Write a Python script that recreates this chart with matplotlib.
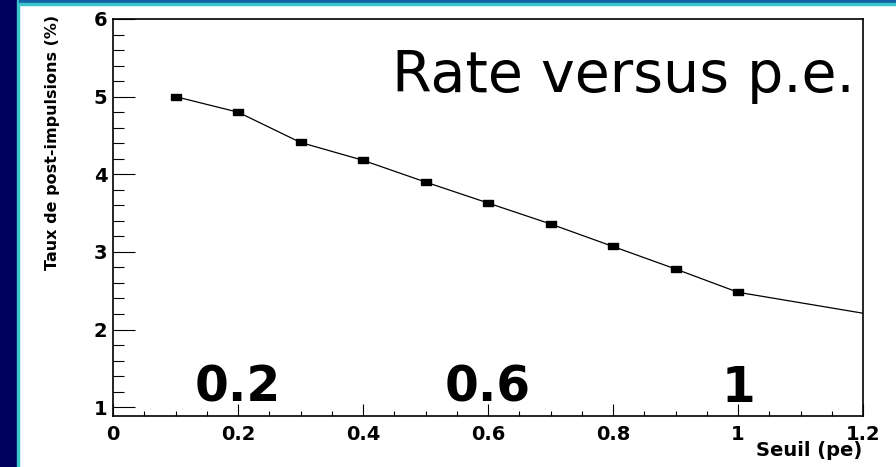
import matplotlib
matplotlib.use('Agg')
import matplotlib.pyplot as plt
from matplotlib import font_manager
from matplotlib.patches import Rectangle
from matplotlib.ticker import MultipleLocator, FuncFormatter

# threshold (pe) vs afterpulse rate (%)
seuil = [0.1, 0.2, 0.3, 0.4, 0.5, 0.6, 0.7, 0.8, 0.9, 1.0, 1.2]
taux = [5.00, 4.80, 4.41, 4.18, 3.90, 3.63, 3.36, 3.07, 2.78, 2.48, 2.21]
n_markers = 10  # the last point only carries the line to the frame

big_labels = ['0.2', '0.6', '1']
big_x = [0.2, 0.6, 1.0]

title = 'Rate versus p.e.'
xlabel = 'Seuil (pe)'
ylabel = 'Taux de post-impulsions (%)'

fonts = {f.name for f in font_manager.fontManager.ttflist}
narrow = 'Liberation Sans Narrow' if 'Liberation Sans Narrow' in fonts else 'DejaVu Sans'
comic = 'DejaVu Sans'

W, H = 896, 467
fig = plt.figure(figsize=(W / 100, H / 100), dpi=100)
fig.patch.set_facecolor('white')

# slide border: navy strip on the left, thin blue strip on top
fig.patches.append(Rectangle((0, 0), 17 / W, 1, transform=fig.transFigure,
                             color='#00005e', zorder=0))
fig.patches.append(Rectangle((17 / W, 0), 2 / W, 1, transform=fig.transFigure,
                             color='#3cc4cc', zorder=0))
fig.patches.append(Rectangle((19 / W, 1 - 3 / H), 1, 3 / H, transform=fig.transFigure,
                             color='#1462a8', zorder=0))
fig.patches.append(Rectangle((19 / W, 1 - 5 / H), 1, 2 / H, transform=fig.transFigure,
                             color='#3cc4cc', zorder=0))

ax = fig.add_axes([113 / W, 1 - 415.7 / H, 750 / W, 396.7 / H])

rect = [(-1, -0.55), (1, -0.55), (1, 0.55), (-1, 0.55), (-1, -0.55)]
ax.plot(seuil, taux, color='black', lw=0.9, marker=rect, ms=7.5,
        markevery=list(range(n_markers)))

ax.set_xlim(0, 1.2)
ax.set_ylim(0.89, 6)
ax.xaxis.set_major_locator(MultipleLocator(0.2))
ax.xaxis.set_minor_locator(MultipleLocator(0.05))
ax.yaxis.set_major_locator(MultipleLocator(1))
ax.yaxis.set_minor_locator(MultipleLocator(0.2))
ax.xaxis.set_major_formatter(FuncFormatter(lambda v, p: '%g' % round(v, 2)))
ax.yaxis.set_major_formatter(FuncFormatter(lambda v, p: '%g' % round(v, 2)))

ax.tick_params(axis='both', which='both', direction='in', top=False, right=False,
               color='black', width=0.8)
ax.tick_params(axis='y', which='major', length=15.6, pad=4)
ax.tick_params(axis='y', which='minor', length=7.7)
ax.tick_params(axis='x', which='major', length=8.4, pad=7)
ax.tick_params(axis='x', which='minor', length=3.8)
for lab in ax.get_xticklabels() + ax.get_yticklabels():
    lab.set_fontweight('bold')
    lab.set_fontsize(14)
    lab.set_family('DejaVu Sans')
for sp in ax.spines.values():
    sp.set_linewidth(1.2)

fig.text(862 / W, 1 - 450 / H, xlabel, ha='right', va='center',
         fontsize=14, fontweight='bold', family='DejaVu Sans')
yl = fig.text(53 / W, 1 - 142 / H, ylabel, rotation=90, ha='center', va='center',
              fontsize=14, fontweight='bold', family=narrow)

tt = ax.text(0.4464, 5.06, title, ha='left', va='baseline', family=comic, fontsize=40)
bigs = [ax.text(x, 1.07, s, ha='center', va='baseline', family=comic,
                fontweight='bold', fontsize=36) for s, x in zip(big_labels, big_x)]

# scale the free texts to the widths seen in the picture
fig.canvas.draw()
r = fig.canvas.get_renderer()


def fit(t, target, use_height=False):
    bb = t.get_window_extent(r)
    cur = bb.height if use_height else bb.width
    t.set_fontsize(t.get_fontsize() * target / cur)


fit(tt, 463)
fit(yl, 255, use_height=True)
fit(bigs[0], 86)
for b in bigs[1:]:
    b.set_fontsize(bigs[0].get_fontsize())

fig.savefig('out.png', dpi=100)
